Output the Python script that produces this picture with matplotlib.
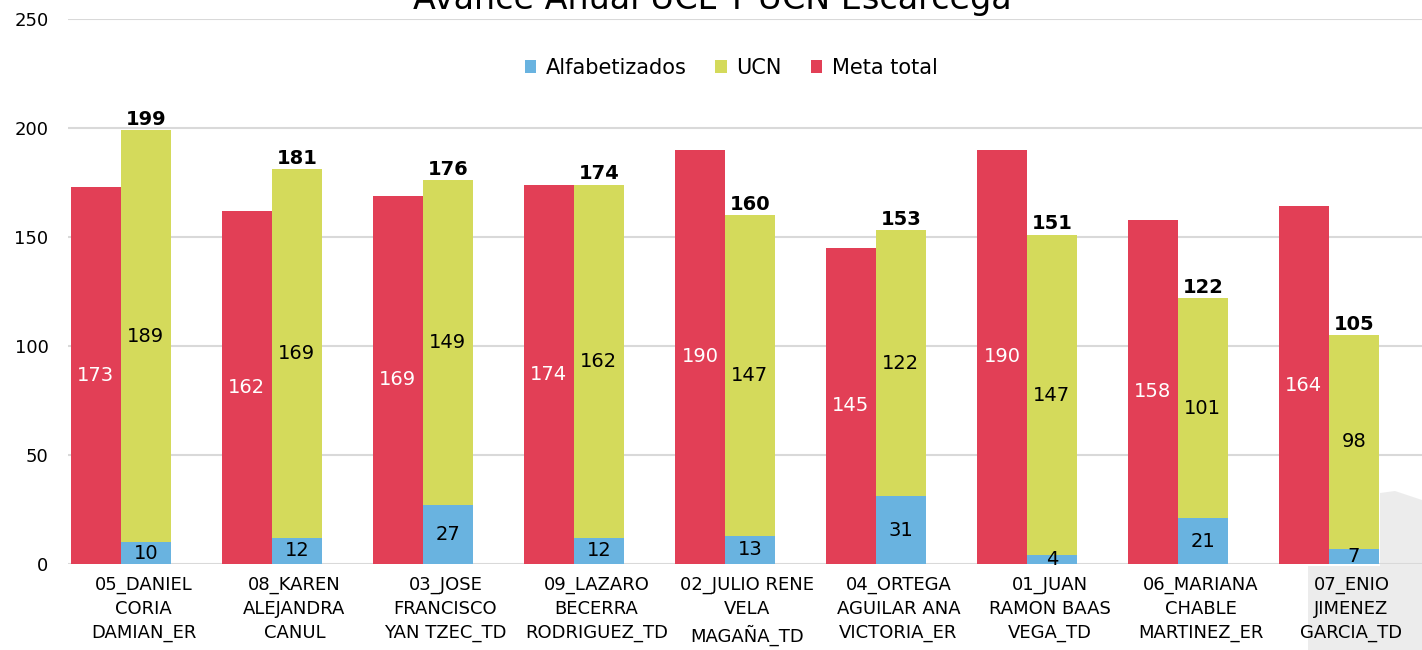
import matplotlib.pyplot as plt
from matplotlib.patches import Polygon
import numpy as np

# Colours
RED = '#E23F56'
GREEN = '#D4DA5B'
BLUE = '#69B3E0'
GRID = '#D9D9D9'
SHADE = '#ECECEC'

FONT = 'DejaVu Sans'

# Data
names = [
    "05_DANIEL\nCORIA\nDAMIAN_ER",
    "08_KAREN\nALEJANDRA\nCANUL",
    "03_JOSE\nFRANCISCO\nYAN TZEC_TD",
    "09_LAZARO\nBECERRA\nRODRIGUEZ_TD",
    "02_JULIO RENE\nVELA\nMAGAÑA_TD",
    "04_ORTEGA\nAGUILAR ANA\nVICTORIA_ER",
    "01_JUAN\nRAMON BAAS\nVEGA_TD",
    "06_MARIANA\nCHABLE\nMARTINEZ_ER",
    "07_ENIO\nJIMENEZ\nGARCIA_TD",
]
meta_total = [173, 162, 169, 174, 190, 145, 190, 158, 164]
alfabetizados = [10, 12, 27, 12, 13, 31, 4, 21, 7]
ucn = [189, 169, 149, 162, 147, 122, 147, 101, 98]

W, H = 1422, 650
fig = plt.figure(figsize=(W / 100, H / 100), dpi=100)
fig.patch.set_facecolor('white')

# light grey shadow in the lower right corner (behind the axes)
shade = [(1308, 566), (1380, 566), (1380, 493), (1395, 491), (1422, 500),
         (1422, 650), (1308, 650)]
fig.patches.append(Polygon([(x / W, 1 - y / H) for x, y in shade],
                           closed=True, transform=fig.transFigure,
                           facecolor=SHADE, edgecolor='none', zorder=-5))

ax = fig.add_axes([68 / W, 1 - 564 / H, (1427 - 68) / W, (564 - 19) / H])
ax.set_facecolor('none')
ax.set_zorder(1)

x = np.arange(len(names))
bw = 0.33
red_x = x - 0.315
stk_x = x + 0.015

ax.bar(red_x, meta_total, bw, color=RED, label='Meta total', zorder=3)
ax.bar(stk_x, alfabetizados, bw, color=BLUE, label='Alfabetizados', zorder=3)
ax.bar(stk_x, ucn, bw, bottom=alfabetizados, color=GREEN, label='UCN', zorder=3)

for i in range(len(names)):
    ax.text(red_x[i], meta_total[i] / 2, str(meta_total[i]), color='white',
            ha='center', va='center', fontsize=14, fontfamily=FONT, zorder=4)
    ax.text(stk_x[i], alfabetizados[i] / 2, str(alfabetizados[i]), color='black',
            ha='center', va='center', fontsize=14, fontfamily=FONT, zorder=4)
    ax.text(stk_x[i], alfabetizados[i] + ucn[i] / 2, str(ucn[i]), color='black',
            ha='center', va='center', fontsize=14, fontfamily=FONT, zorder=4)
    total = alfabetizados[i] + ucn[i]
    ax.annotate(str(total), (stk_x[i], total), xytext=(0, 1),
                textcoords='offset points', ha='center', va='bottom',
                fontsize=14, fontweight='bold', fontfamily=FONT, zorder=4)

ax.set_xlim(-0.5, len(names) - 0.5)
ax.set_ylim(0, 250)
ax.set_yticks(range(0, 251, 50))
ax.yaxis.grid(True, color=GRID, linewidth=1.5, zorder=0)
ax.set_axisbelow(True)
for s in ax.spines.values():
    s.set_visible(False)
ax.tick_params(length=0)
ax.tick_params(axis='y', labelsize=13, pad=14)
ax.tick_params(axis='x', labelsize=13, pad=9)
ax.set_xticks(x)
ax.set_xticklabels(names, fontfamily=FONT, linespacing=1.4)
for lab in ax.get_yticklabels():
    lab.set_fontfamily(FONT)

# legend order as in the reference
h, l = ax.get_legend_handles_labels()
order = [1, 2, 0]
fig.legend([h[k] for k in order], [l[k] for k in order],
           loc='center', bbox_to_anchor=(731 / W, 1 - 68 / H), ncol=3,
           frameon=False, handlelength=0.55, handleheight=0.55,
           handletextpad=0.45, columnspacing=1.4,
           prop={'family': FONT, 'size': 15})

fig.text(712 / W, 1 - 9 / H, "Avance Anual UCL Y UCN Escarcega", ha='center',
         va='baseline', fontsize=24, fontfamily=FONT)

fig.savefig('out.png', dpi=100, facecolor='white')
